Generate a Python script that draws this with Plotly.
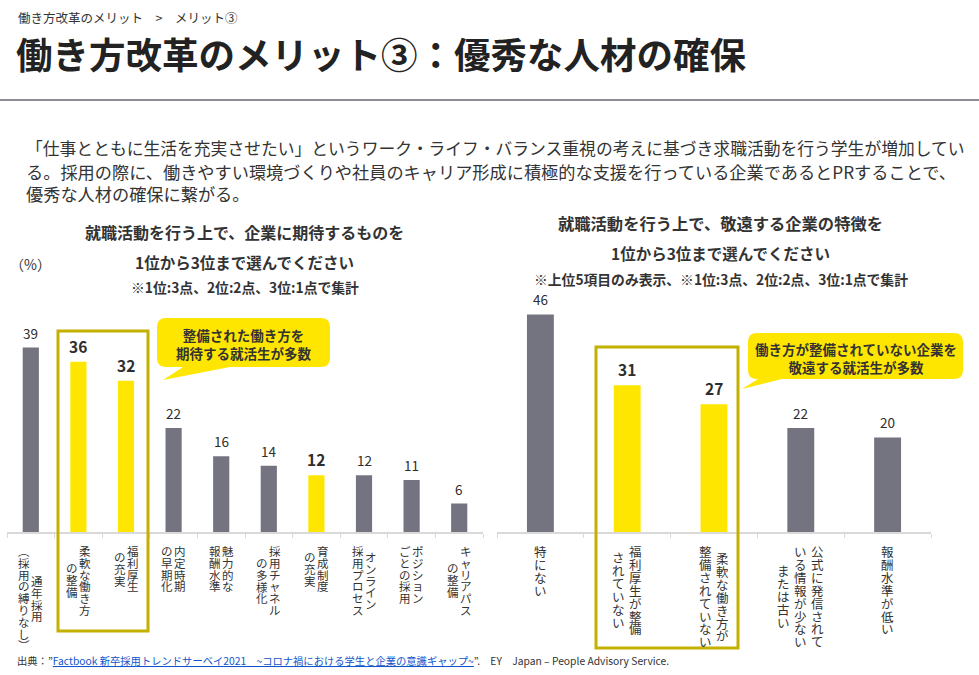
import plotly.graph_objects as go

# ---------------- data ----------------
left_categories = ["通年採用（採用の縛りなし）", "柔軟な働き方の整備", "福利厚生の充実", "内定時期の早期化",
                   "魅力的な報酬水準", "採用チャネルの多様化", "育成制度の充実", "オンライン採用プロセス",
                   "ポジションごとの採用", "キャリアパスの整備"]
left_values = [39, 36, 32, 22, 16, 14, 12, 12, 11, 6]
left_highlight = [False, True, True, False, False, False, True, False, False, False]
left_label_columns = [["通年採用", "︵採用の縛りなし︶"], ["柔軟な働き方", "の整備"], ["福利厚生", "の充実"],
                      ["内定時期", "の早期化"], ["魅力的な", "報酬水準"], ["採用チャネル", "の多様化"],
                      ["育成制度", "の充実"], ["オンライン", "採用プロセス"], ["ポジション", "ごとの採用"],
                      ["キャリアパス", "の整備"]]

right_categories = ["特にない", "福利厚生が整備されていない", "柔軟な働き方が整備されていない",
                    "公式に発信されている情報が少ないまたは古い", "報酬水準が低い"]
right_values = [46, 31, 27, 22, 20]
right_highlight = [False, True, True, False, False]
right_label_columns = [["特にない"], ["福利厚生が整備", "されていない"], ["柔軟な働き方が", "整備されていない"],
                       ["公式に発信されて", "いる情報が少ない", "または古い"], ["報酬水準が低い"]]

GRAY = "#747480"
YELLOW = "#FFE600"
BOX = "#C4B000"
TXT = "#333333"
FONT = "Noto Sans CJK JP"

W, H = 979, 675


def X(px):
    return px / W


def Y(py):
    return 1 - py / H


fig = go.Figure()
fig.add_trace(go.Bar(x=left_categories, y=left_values, width=0.34,
                     marker=dict(color=[YELLOW if h else GRAY for h in left_highlight], line=dict(width=0)),
                     xaxis="x", yaxis="y", hoverinfo="skip", showlegend=False))
fig.add_trace(go.Bar(x=right_categories, y=right_values, width=0.31,
                     marker=dict(color=[YELLOW if h else GRAY for h in right_highlight], line=dict(width=0)),
                     xaxis="x2", yaxis="y2", hoverinfo="skip", showlegend=False))

ydom = [Y(532), Y(295.5)]
axis_common = dict(type="category", showline=True, linecolor="#D9D9D9", linewidth=1.5,
                   ticks="outside", tickson="boundaries", ticklen=4, tickcolor="#D9D9D9",
                   showticklabels=False, showgrid=False, zeroline=False, fixedrange=True)
fig.update_layout(
    width=W, height=H, margin=dict(l=0, r=0, t=0, b=0),
    paper_bgcolor="white", plot_bgcolor="rgba(0,0,0,0)",
    font=dict(family=FONT, color=TXT),
    xaxis=dict(domain=[X(7), X(483)], anchor="y", **axis_common),
    xaxis2=dict(domain=[X(497), X(931)], anchor="y2", **axis_common),
    yaxis=dict(domain=ydom, range=[0, 50], visible=False, fixedrange=True),
    yaxis2=dict(domain=ydom, range=[0, 50], visible=False, fixedrange=True, anchor="x2"),
)

ann = []
shapes = []

# value labels
for xr, yr, cats, vals, hl in [("x", "y", left_categories, left_values, left_highlight),
                               ("x2", "y2", right_categories, right_values, right_highlight)]:
    for c, v, h in zip(cats, vals, hl):
        ann.append(dict(x=c, y=v, xref=xr, yref=yr, text=(f"<b>{v}</b>" if h else str(v)),
                        showarrow=False, yanchor="bottom", yshift=3,
                        font=dict(size=15.5 if h else 13.5, color="#2E2E2E", family=FONT)))


def vlabels(xref, cats, cols_list, top, pitch, colgap, size):
    # vertical (tategaki) labels: one text per column, characters stacked line by line;
    # the annotation font sets the line pitch (1.3 em), the spans set the glyph size
    base = pitch / 1.3
    for cat, cols in zip(cats, cols_list):
        L = max(len(c) for c in cols)
        n = len(cols)
        for j, col in enumerate(cols):
            xs = ((n - 1) / 2 - j) * colgap
            cy = top + L * pitch / 2
            txt = "<br>".join(f'<span style="font-size:{size}px">{ch}</span>' for ch in col)
            ann.append(dict(x=cat, xref=xref, y=Y(cy), yref="paper", text=txt, showarrow=False,
                            xanchor="center", yanchor="middle", xshift=xs, borderpad=0,
                            font=dict(size=base, color=TXT, family=FONT)))


vlabels("x", left_categories, left_label_columns, 545, 11.8, 13, 11.5)
vlabels("x2", right_categories, right_label_columns, 545, 12.9, 17, 12.5)

# header
ann.append(dict(x=X(16), y=Y(17), xref="paper", yref="paper", xanchor="left", yanchor="middle",
                text="働き方改革のメリット　>　メリット③", showarrow=False,
                font=dict(size=12.5, color=TXT, family=FONT)))
ann.append(dict(x=X(14), y=Y(53), xref="paper", yref="paper", xanchor="left", yanchor="middle",
                text="<b>働き方改革のメリット③：優秀な人材の確保</b>", showarrow=False,
                font=dict(size=36.5, color="#222222", family=FONT)))
shapes.append(dict(type="line", xref="paper", yref="paper", x0=0, x1=1, y0=Y(100), y1=Y(100),
                   line=dict(color="#8C8C96", width=2)))

body = ["「仕事とともに生活を充実させたい」というワーク・ライフ・バランス重視の考えに基づき求職活動を行う学生が増加してい",
        "る。採用の際に、働きやすい環境づくりや社員のキャリア形成に積極的な支援を行っている企業であるとPRすることで、",
        "優秀な人材の確保に繋がる。"]
body_sizes = [16.8, 17.2, 17.2]
for i, line in enumerate(body):
    ann.append(dict(x=X(24), y=Y(148 + 23 * i), xref="paper", yref="paper", xanchor="left", yanchor="middle",
                    text=line, showarrow=False, font=dict(size=body_sizes[i], color=TXT, family=FONT)))

# chart titles
for txt, cx, cy, sz in [("<b>就職活動を行う上で、企業に期待するものを</b>", 245, 232, 16),
                        ("<b>1位から3位まで選んでください</b>", 245, 262, 15.5),
                        ("<b>※1位:3点、2位:2点、3位:1点で集計</b>", 245, 287, 13.8),
                        ("<b>就職活動を行う上で、敬遠する企業の特徴を</b>", 720, 223, 16.3),
                        ("<b>1位から3位まで選んでください</b>", 720, 253, 15.5),
                        ("<b>※上位5項目のみ表示、※1位:3点、2位:2点、3位:1点で集計</b>", 721, 279, 13.8)]:
    ann.append(dict(x=X(cx), y=Y(cy), xref="paper", yref="paper", xanchor="center", yanchor="middle",
                    text=txt, showarrow=False, font=dict(size=sz, color=TXT, family=FONT)))
ann.append(dict(x=X(8), y=Y(264), xref="paper", yref="paper", xanchor="left", yanchor="middle",
                text="（%）", showarrow=False, font=dict(size=14, color=TXT, family=FONT)))

# highlight boxes
for x0, y0, x1, y1 in [(58, 331, 148, 631), (596, 347, 738, 648)]:
    shapes.append(dict(type="rect", xref="paper", yref="paper", x0=X(x0), x1=X(x1), y0=Y(y1), y1=Y(y0),
                       line=dict(color=BOX, width=3), fillcolor="rgba(0,0,0,0)", layer="above"))


def bubble(x0, y0, x1, y1, r, pb1, tip, pb2):
    def p(x, y):
        return f"{X(x):.5f},{Y(y):.5f}"
    d = (f"M {p(x0 + r, y0)} L {p(x1 - r, y0)} Q {p(x1, y0)} {p(x1, y0 + r)} "
         f"L {p(x1, y1 - r)} Q {p(x1, y1)} {p(x1 - r, y1)} L {p(pb1, y1)} L {p(*tip)} L {p(pb2, y1)} "
         f"L {p(x0 + r, y1)} Q {p(x0, y1)} {p(x0, y1 - r)} L {p(x0, y0 + r)} Q {p(x0, y0)} {p(x0 + r, y0)} Z")
    shapes.append(dict(type="path", path=d, xref="paper", yref="paper", fillcolor=YELLOW,
                       line=dict(width=0), layer="above"))


bubble(157, 318, 330, 367, 9, 230, (163, 380), 183)
bubble(748, 333, 963, 379, 9, 782, (742, 389), 758)
ann.append(dict(x=X(243.5), y=Y(344), xref="paper", yref="paper", xanchor="center", yanchor="middle",
                text="<b>整備された働き方を<br>期待する就活生が多数</b>", showarrow=False,
                font=dict(size=13.5, color=TXT, family=FONT)))
ann.append(dict(x=X(855.5), y=Y(357.5), xref="paper", yref="paper", xanchor="center", yanchor="middle",
                text="<b>働き方が整備されていない企業を<br>敬遠する就活生が多数</b>", showarrow=False,
                font=dict(size=13.5, color=TXT, family=FONT)))

# footer
ann.append(dict(x=X(15), y=Y(660), xref="paper", yref="paper", xanchor="left", yanchor="middle",
                text=('出典：”<span style="color:#1155CC"><u>Factbook 新卒採用トレンドサーベイ2021　~コロナ禍における学生と企業の意識ギャップ~</u></span>”.　EY　Japan – People Advisory Service.'),
                showarrow=False, font=dict(size=10.3, color=TXT, family=FONT)))

fig.update_layout(annotations=ann, shapes=shapes)
fig.write_html("out.html", config={"displayModeBar": False},
               post_script="document.body.style.margin='0';document.body.style.padding='0';document.body.style.overflow='hidden';")
